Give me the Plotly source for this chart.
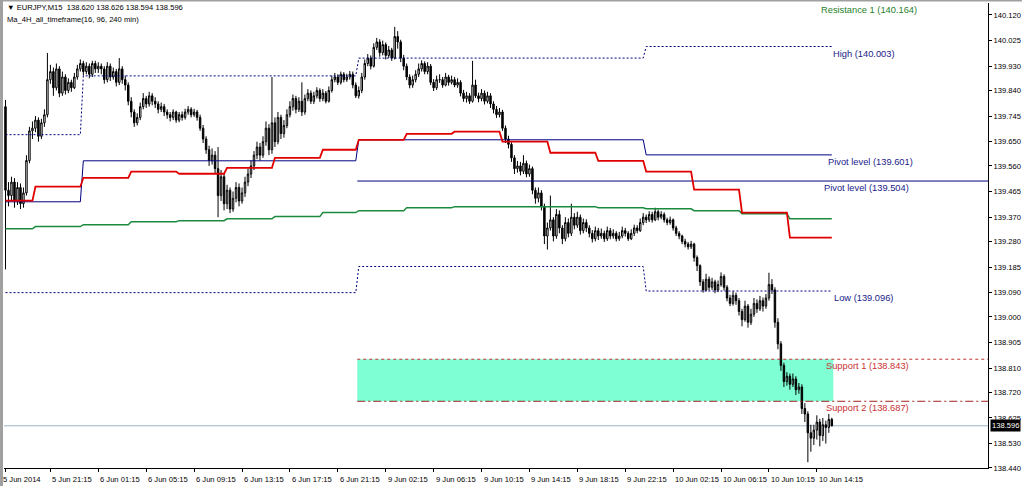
import plotly.graph_objects as go

# ---------------- data (EURJPY M15) ----------------
opens = [
139.780, 139.470, 139.450, 139.500, 139.430, 139.480, 139.420, 139.460, 139.580, 139.690,
139.700, 139.730, 139.670, 139.720, 139.750, 139.880, 139.910, 139.850, 139.920, 139.830,
139.890, 139.840, 139.870, 139.850, 139.890, 139.920, 139.940, 139.910, 139.930, 139.900,
139.940, 139.920, 139.930, 139.920, 139.880, 139.930, 139.890, 139.910, 139.870, 139.920,
139.880, 139.860, 139.800, 139.760, 139.720, 139.740, 139.780, 139.810, 139.790, 139.820,
139.800, 139.790, 139.770, 139.780, 139.760, 139.750, 139.740, 139.760, 139.730, 139.750,
139.740, 139.760, 139.770, 139.750, 139.760, 139.740, 139.700, 139.660, 139.620, 139.580,
139.600, 139.550, 139.450, 139.520, 139.420, 139.470, 139.400, 139.440, 139.480, 139.430,
139.460, 139.500, 139.530, 139.560, 139.600, 139.630, 139.600, 139.650, 139.700, 139.620,
139.720, 139.650, 139.740, 139.680, 139.710, 139.750, 139.780, 139.810, 139.770, 139.800,
139.760, 139.810, 139.830, 139.800, 139.820, 139.840, 139.810, 139.830, 139.800, 139.840,
139.880, 139.890, 139.870, 139.900, 139.880, 139.890, 139.900, 139.860, 139.820, 139.840,
139.890, 139.940, 139.960, 139.930, 140.000, 140.020, 139.980, 140.010, 139.970, 139.990,
139.960, 140.040, 140.020, 139.960, 139.930, 139.890, 139.860, 139.880, 139.900, 139.920,
139.940, 139.910, 139.930, 139.870, 139.850, 139.880, 139.880, 139.860, 139.890, 139.870,
139.880, 139.860, 139.870, 139.830, 139.810, 139.820, 139.800, 139.860, 139.820, 139.810,
139.830, 139.800, 139.820, 139.790, 139.770, 139.750, 139.760, 139.700, 139.660, 139.640,
139.590, 139.550, 139.560, 139.540, 139.570, 139.530, 139.550, 139.470, 139.440, 139.460,
139.410, 139.300, 139.330, 139.360, 139.300, 139.380, 139.330, 139.290, 139.350, 139.310,
139.370, 139.340, 139.370, 139.320, 139.350, 139.330, 139.310, 139.290, 139.320, 139.300,
139.310, 139.290, 139.320, 139.300, 139.310, 139.290, 139.300, 139.320, 139.310, 139.290,
139.310, 139.330, 139.320, 139.350, 139.370, 139.360, 139.380, 139.360, 139.390, 139.370,
139.380, 139.360, 139.350, 139.360, 139.330, 139.310, 139.300, 139.280, 139.270, 139.260,
139.270, 139.220, 139.190, 139.130, 139.100, 139.140, 139.110, 139.130, 139.100, 139.120,
139.150, 139.110, 139.070, 139.050, 139.080, 139.060, 139.020, 138.990, 139.040, 138.980,
139.010, 139.050, 139.030, 139.060, 139.040, 139.070, 139.120, 139.100, 138.980, 138.900,
138.820, 138.760, 138.780, 138.750, 138.770, 138.730, 138.740, 138.660, 138.640, 138.570,
138.550, 138.580, 138.610, 138.560, 138.600, 138.590, 138.620,
]
highs = [
139.805, 139.500, 139.520, 139.515, 139.500, 139.495, 139.480, 139.600, 139.705, 139.725,
139.745, 139.740, 139.735, 139.770, 139.979, 139.935, 139.925, 139.940, 139.930, 139.910,
139.900, 139.885, 139.880, 139.905, 139.935, 139.955, 139.950, 139.945, 139.940, 139.950,
139.950, 139.945, 139.940, 139.930, 139.945, 139.940, 139.925, 139.920, 139.960, 139.930,
139.895, 139.870, 139.815, 139.770, 139.755, 139.795, 139.830, 139.820, 139.835, 139.830,
139.815, 139.800, 139.795, 139.790, 139.770, 139.760, 139.770, 139.765, 139.760, 139.762,
139.772, 139.782, 139.778, 139.772, 139.768, 139.750, 139.712, 139.670, 139.635, 139.625,
139.615, 139.630, 139.545, 139.530, 139.490, 139.480, 139.465, 139.500, 139.495, 139.480,
139.520, 139.550, 139.580, 139.615, 139.650, 139.645, 139.670, 139.725, 139.715, 139.890,
139.740, 139.760, 139.750, 139.730, 139.770, 139.800, 139.825, 139.820, 139.815, 139.870,
139.825, 139.845, 139.840, 139.835, 139.852, 139.848, 139.845, 139.838, 139.855, 139.895,
139.905, 139.900, 139.910, 139.908, 139.902, 139.912, 139.910, 139.870, 139.855, 139.905,
139.955, 139.975, 139.970, 140.015, 140.035, 140.030, 140.025, 140.018, 140.005, 139.998,
140.076, 140.060, 140.028, 139.972, 139.940, 139.900, 139.895, 139.915, 139.940, 139.952,
139.948, 139.945, 139.938, 139.882, 139.895, 139.900, 139.890, 139.905, 139.898, 139.895,
139.890, 139.885, 139.878, 139.842, 139.835, 139.830, 139.950, 139.880, 139.832, 139.845,
139.840, 139.835, 139.830, 139.800, 139.782, 139.775, 139.768, 139.710, 139.672, 139.648,
139.600, 139.578, 139.575, 139.600, 139.580, 139.565, 139.558, 139.480, 139.480, 139.470,
139.420, 139.350, 139.450, 139.370, 139.400, 139.395, 139.340, 139.370, 139.365, 139.420,
139.385, 139.390, 139.380, 139.365, 139.362, 139.340, 139.322, 139.335, 139.330, 139.328,
139.320, 139.335, 139.330, 139.325, 139.318, 139.315, 139.335, 139.330, 139.318, 139.325,
139.342, 139.340, 139.365, 139.385, 139.380, 139.392, 139.390, 139.405, 139.398, 139.392,
139.388, 139.368, 139.372, 139.365, 139.338, 139.318, 139.305, 139.290, 139.278, 139.282,
139.275, 139.228, 139.195, 139.140, 139.160, 139.150, 139.145, 139.138, 139.135, 139.165,
139.158, 139.118, 139.082, 139.095, 139.090, 139.070, 139.030, 139.060, 139.048, 139.030,
139.070, 139.065, 139.078, 139.072, 139.085, 139.164, 139.140, 139.110, 138.995, 138.910,
138.830, 138.795, 138.790, 138.790, 138.780, 138.755, 138.750, 138.680, 138.650, 138.600,
138.600, 138.635, 138.622, 138.625, 138.615, 138.640, 138.626,
]
lows = [
139.176, 139.410, 139.430, 139.405, 139.415, 139.400, 139.405, 139.450, 139.570, 139.660,
139.685, 139.650, 139.660, 139.705, 139.740, 139.865, 139.820, 139.840, 139.815, 139.820,
139.825, 139.830, 139.835, 139.845, 139.880, 139.910, 139.895, 139.900, 139.885, 139.890,
139.905, 139.905, 139.900, 139.865, 139.870, 139.875, 139.880, 139.855, 139.860, 139.865,
139.840, 139.785, 139.740, 139.705, 139.710, 139.730, 139.770, 139.775, 139.780, 139.785,
139.775, 139.755, 139.760, 139.745, 139.735, 139.725, 139.730, 139.720, 139.722, 139.728,
139.732, 139.750, 139.740, 139.742, 139.728, 139.690, 139.645, 139.605, 139.560, 139.565,
139.530, 139.370, 139.430, 139.395, 139.400, 139.385, 139.390, 139.425, 139.410, 139.420,
139.445, 139.485, 139.515, 139.545, 139.585, 139.580, 139.590, 139.635, 139.600, 139.605,
139.630, 139.640, 139.660, 139.665, 139.700, 139.740, 139.765, 139.755, 139.760, 139.745,
139.750, 139.800, 139.790, 139.790, 139.810, 139.798, 139.800, 139.792, 139.795, 139.832,
139.870, 139.860, 139.862, 139.870, 139.872, 139.880, 139.848, 139.812, 139.810, 139.830,
139.880, 139.930, 139.918, 139.925, 139.990, 139.965, 139.970, 139.955, 139.960, 139.950,
139.955, 139.995, 139.945, 139.915, 139.878, 139.848, 139.850, 139.870, 139.890, 139.910,
139.900, 139.900, 139.860, 139.838, 139.842, 139.868, 139.850, 139.855, 139.858, 139.862,
139.852, 139.850, 139.818, 139.798, 139.795, 139.790, 139.795, 139.812, 139.796, 139.800,
139.788, 139.792, 139.775, 139.755, 139.738, 139.740, 139.690, 139.645, 139.625, 139.575,
139.530, 139.535, 139.525, 139.530, 139.518, 139.520, 139.455, 139.420, 139.425, 139.395,
139.270, 139.250, 139.320, 139.280, 139.290, 139.310, 139.270, 139.280, 139.295, 139.300,
139.325, 139.330, 139.305, 139.310, 139.315, 139.295, 139.276, 139.280, 139.285, 139.290,
139.278, 139.282, 139.288, 139.290, 139.280, 139.282, 139.292, 139.298, 139.282, 139.285,
139.300, 139.310, 139.315, 139.340, 139.348, 139.352, 139.350, 139.355, 139.358, 139.362,
139.350, 139.340, 139.342, 139.320, 139.300, 139.288, 139.270, 139.258, 139.250, 139.252,
139.205, 139.170, 139.115, 139.090, 139.095, 139.098, 139.100, 139.088, 139.092, 139.112,
139.098, 139.058, 139.040, 139.042, 139.045, 139.005, 138.965, 138.982, 138.960, 138.970,
139.000, 139.015, 139.022, 139.020, 139.030, 139.060, 139.085, 138.960, 138.880, 138.800,
138.740, 138.745, 138.730, 138.740, 138.710, 138.715, 138.640, 138.610, 138.461, 138.500,
138.525, 138.545, 138.520, 138.540, 138.530, 138.570, 138.594,
]
closes = [
139.470, 139.450, 139.500, 139.430, 139.480, 139.420, 139.460, 139.580, 139.690, 139.700,
139.730, 139.670, 139.720, 139.750, 139.880, 139.910, 139.850, 139.920, 139.830, 139.890,
139.840, 139.870, 139.850, 139.890, 139.920, 139.940, 139.910, 139.930, 139.900, 139.940,
139.920, 139.930, 139.920, 139.880, 139.930, 139.890, 139.910, 139.870, 139.920, 139.880,
139.860, 139.800, 139.760, 139.720, 139.740, 139.780, 139.810, 139.790, 139.820, 139.800,
139.790, 139.770, 139.780, 139.760, 139.750, 139.740, 139.760, 139.730, 139.750, 139.740,
139.760, 139.770, 139.750, 139.760, 139.740, 139.700, 139.660, 139.620, 139.580, 139.600,
139.550, 139.450, 139.520, 139.420, 139.470, 139.400, 139.440, 139.480, 139.430, 139.460,
139.500, 139.530, 139.560, 139.600, 139.630, 139.600, 139.650, 139.700, 139.620, 139.720,
139.650, 139.740, 139.680, 139.710, 139.750, 139.780, 139.810, 139.770, 139.800, 139.760,
139.810, 139.830, 139.800, 139.820, 139.840, 139.810, 139.830, 139.800, 139.840, 139.880,
139.890, 139.870, 139.900, 139.880, 139.890, 139.900, 139.860, 139.820, 139.840, 139.890,
139.940, 139.960, 139.930, 140.000, 140.020, 139.980, 140.010, 139.970, 139.990, 139.960,
140.040, 140.020, 139.960, 139.930, 139.890, 139.860, 139.880, 139.900, 139.920, 139.940,
139.910, 139.930, 139.870, 139.850, 139.880, 139.880, 139.860, 139.890, 139.870, 139.880,
139.860, 139.870, 139.830, 139.810, 139.820, 139.800, 139.860, 139.820, 139.810, 139.830,
139.800, 139.820, 139.790, 139.770, 139.750, 139.760, 139.700, 139.660, 139.640, 139.590,
139.550, 139.560, 139.540, 139.570, 139.530, 139.550, 139.470, 139.440, 139.460, 139.410,
139.300, 139.330, 139.360, 139.300, 139.380, 139.330, 139.290, 139.350, 139.310, 139.370,
139.340, 139.370, 139.320, 139.350, 139.330, 139.310, 139.290, 139.320, 139.300, 139.310,
139.290, 139.320, 139.300, 139.310, 139.290, 139.300, 139.320, 139.310, 139.290, 139.310,
139.330, 139.320, 139.350, 139.370, 139.360, 139.380, 139.360, 139.390, 139.370, 139.380,
139.360, 139.350, 139.360, 139.330, 139.310, 139.300, 139.280, 139.270, 139.260, 139.270,
139.220, 139.190, 139.130, 139.100, 139.140, 139.110, 139.130, 139.100, 139.120, 139.150,
139.110, 139.070, 139.050, 139.080, 139.060, 139.020, 138.990, 139.040, 138.980, 139.010,
139.050, 139.030, 139.060, 139.040, 139.070, 139.120, 139.100, 138.980, 138.900, 138.820,
138.760, 138.780, 138.750, 138.770, 138.730, 138.740, 138.660, 138.640, 138.570, 138.550,
138.580, 138.610, 138.560, 138.600, 138.590, 138.620, 138.596,
]

# 4H moving averages (value per 4-hour period, period start given as bar index)
h4_starts = [0, 10, 26, 42, 58, 74, 90, 106, 118, 134, 150, 166, 182, 198, 214, 230, 246, 262]
ma_fast = [139.431, 139.483, 139.516, 139.539, 139.531, 139.553, 139.590, 139.620, 139.657,
           139.679, 139.687, 139.650, 139.609, 139.579, 139.539, 139.472, 139.387, 139.294]
ma_slow = [139.327, 139.335, 139.342, 139.353, 139.357, 139.364, 139.372, 139.387, 139.394,
           139.405, 139.409, 139.409, 139.409, 139.405, 139.401, 139.394, 139.383, 139.364]

# daily levels (day start given as bar index)
day_starts = [0, 26, 118, 214]
day_high = [139.676, 139.894, 139.960, 140.003]
day_low = [139.090, 139.090, 139.187, 139.096]
day_pivot = [139.427, 139.579, 139.657, 139.601]

pivot_2 = 139.504
resistance_1 = 140.164
support_1 = 138.843
support_2 = 138.687
last_price = 138.596

x_tick_bars = [0, 15, 31, 47, 63, 79, 95, 111, 127, 143, 159, 175, 191, 207, 223, 239, 255, 271]
x_tick_text = ["5 Jun 2014", "5 Jun 21:15", "6 Jun 01:15", "6 Jun 05:15", "6 Jun 09:15",
               "6 Jun 13:15", "6 Jun 17:15", "6 Jun 21:15", "9 Jun 02:15", "9 Jun 06:15",
               "9 Jun 10:15", "9 Jun 14:15", "9 Jun 18:15", "9 Jun 22:15", "10 Jun 02:15",
               "10 Jun 06:15", "10 Jun 10:15", "10 Jun 14:15"]
y_ticks = [140.120, 140.025, 139.930, 139.840, 139.745, 139.650, 139.560, 139.465, 139.370,
           139.280, 139.185, 139.090, 139.000, 138.905, 138.810, 138.720, 138.625, 138.530,
           138.440]

# ---------------- layout geometry ----------------
W, H = 1024, 486
L_M, R_M, T_M, B_M = 4, 34, 3, 18
PW = W - L_M - R_M
PH = H - T_M - B_M
BAR_PX = 3.0
X0 = -0.5
X1 = X0 + PW / BAR_PX
Y_RANGE = [138.4395, 140.1644]
FONT = "Liberation Sans, Arial, sans-serif"


def px(xp):
    return (xp - L_M) / PW


def py(yp):
    return (H - B_M - yp) / PH


def bar_of(xp):
    return (xp - L_M) / BAR_PX + X0


def bar_to_paper(b):
    return (b - X0) / (X1 - X0)


n = len(closes)
bars = list(range(n))


def expand(starts, values):
    out = []
    for k, s in enumerate(starts):
        e = starts[k + 1] if k + 1 < len(starts) else n
        out += [values[k]] * (e - s)
    return out


fig = go.Figure()

# support zone
fig.add_shape(type="rect", xref="x", yref="y", x0=117.5, x1=276.5, y0=support_2, y1=support_1,
              fillcolor="#7FFFD4", line=dict(width=0), layer="below")
# current price line
fig.add_shape(type="line", xref="paper", yref="y", x0=0, x1=1, y0=last_price, y1=last_price,
              line=dict(color="#9db3c8", width=1), layer="below")

fig.add_trace(go.Candlestick(
    x=bars, open=opens, high=highs, low=lows, close=closes,
    increasing=dict(line=dict(color="#000000", width=1), fillcolor="#ffffff"),
    decreasing=dict(line=dict(color="#000000", width=1), fillcolor="#000000"),
    whiskerwidth=0, showlegend=False, hoverinfo="skip"))

navy = "#000080"
fig.add_trace(go.Scatter(x=bars, y=expand(day_starts, day_high), mode="lines",
                         line=dict(color=navy, width=1, dash="2px,2px"), showlegend=False, hoverinfo="skip"))
fig.add_trace(go.Scatter(x=bars, y=expand(day_starts, day_low), mode="lines",
                         line=dict(color=navy, width=1, dash="2px,2px"), showlegend=False, hoverinfo="skip"))
fig.add_trace(go.Scatter(x=bars, y=expand(day_starts, day_pivot), mode="lines",
                         line=dict(color=navy, width=1), showlegend=False, hoverinfo="skip"))
fig.add_trace(go.Scatter(x=[117.5, X1], y=[pivot_2, pivot_2], mode="lines",
                         line=dict(color=navy, width=1), showlegend=False, hoverinfo="skip"))
fig.add_trace(go.Scatter(x=[117.5, X1], y=[support_1, support_1], mode="lines",
                         line=dict(color="#c03030", width=1, dash="3px,3px"), showlegend=False, hoverinfo="skip"))
fig.add_trace(go.Scatter(x=[117.5, X1], y=[support_2, support_2], mode="lines",
                         line=dict(color="#a02020", width=1, dash="8px,3px,2px,3px"), showlegend=False, hoverinfo="skip"))
fig.add_trace(go.Scatter(x=bars, y=expand(h4_starts, ma_slow), mode="lines",
                         line=dict(color="#1b8a3e", width=1.5), showlegend=False, hoverinfo="skip"))
fig.add_trace(go.Scatter(x=bars, y=expand(h4_starts, ma_fast), mode="lines",
                         line=dict(color="#e00000", width=1.8), showlegend=False, hoverinfo="skip"))

ann = []
# level labels
level_labels = [
    ("Resistance 1 (140.164)", resistance_1, 822, "#1f7f2a"),
    ("High (140.003)", day_high[-1], 834, "#1a1a8a"),
    ("Pivot level (139.601)", day_pivot[-1], 829, "#1a1a8a"),
    ("Pivot level (139.504)", pivot_2, 825, "#1a1a8a"),
    ("Low (139.096)", day_low[-1], 835, "#1a1a8a"),
    ("Support 1 (138.843)", support_1, 827, "#c83232"),
    ("Support 2 (138.687)", support_2, 827, "#c83232"),
]
for txt, lvl, xp, col in level_labels:
    ann.append(dict(text=txt, x=bar_of(xp), xref="x", y=lvl, yref="y", xanchor="left",
                    yanchor="top", showarrow=False, borderpad=0, yshift=-1,
                    font=dict(family=FONT, size=9.3, color=col)))

# header
ann.append(dict(text="▼ EURJPY,M15  138.620 138.626 138.594 138.596", x=px(6), y=py(8),
                xref="paper", yref="paper", xanchor="left", yanchor="middle", showarrow=False,
                borderpad=0, font=dict(family=FONT, size=7.6, color="#000000")))
ann.append(dict(text="Ma_4H_all_timeframe(16, 96, 240 min)", x=px(6), y=py(20),
                xref="paper", yref="paper", xanchor="left", yanchor="middle", showarrow=False,
                borderpad=0, font=dict(family=FONT, size=7.6, color="#000000")))

# time labels (left aligned at each tick)
for b, t in zip(x_tick_bars, x_tick_text):
    xpos = bar_to_paper(b) if b > 0 else px(2)
    ann.append(dict(text=t, x=xpos, xref="paper", y=py(479), yref="paper", xanchor="left",
                    yanchor="middle", showarrow=False, borderpad=0, xshift=1 if b > 0 else 0,
                    font=dict(family=FONT, size=7.6, color="#000000")))

# current price box
ann.append(dict(text="138.596", x=1, xref="paper", y=last_price, yref="y", xanchor="left",
                yanchor="middle", showarrow=False, xshift=2, bgcolor="#000000", borderpad=1,
                font=dict(family=FONT, size=7.6, color="#ffffff")))

shapes_frame = [
    dict(type="rect", xref="paper", yref="paper", x0=px(0), x1=px(3), y0=py(486), y1=py(0),
         fillcolor="#a0a0a0", line=dict(width=0), layer="above"),
    dict(type="rect", xref="paper", yref="paper", x0=px(0), x1=px(1024), y0=py(1.5), y1=py(0),
         fillcolor="#a0a0a0", line=dict(width=0), layer="above"),
]
for s in shapes_frame:
    fig.add_shape(**s)

fig.update_layout(
    width=W, height=H,
    margin=dict(l=L_M, r=R_M, t=T_M, b=B_M, pad=0),
    paper_bgcolor="#ffffff", plot_bgcolor="#ffffff",
    showlegend=False,
    annotations=ann,
    font=dict(family=FONT, size=7.6, color="#000000"),
    xaxis=dict(range=[X0, X1], showgrid=False, zeroline=False, rangeslider=dict(visible=False),
               showline=True, linecolor="#000000", linewidth=1, ticks="outside", ticklen=3,
               tickcolor="#000000", tickvals=x_tick_bars, showticklabels=False, fixedrange=True),
    yaxis=dict(range=Y_RANGE, side="right", showgrid=False, zeroline=False, showline=True,
               linecolor="#000000", linewidth=1, ticks="outside", ticklen=3, tickcolor="#000000",
               tickvals=y_ticks, ticktext=[f"{v:.3f}" for v in y_ticks],
               tickfont=dict(family=FONT, size=7.6, color="#000000"), fixedrange=True),
)

fig.write_html("out.html", include_plotlyjs=True, full_html=True,
               config={"displayModeBar": False, "staticPlot": True},
               post_script="document.body.style.margin='0';document.body.style.padding='0';document.body.style.overflow='hidden';")
